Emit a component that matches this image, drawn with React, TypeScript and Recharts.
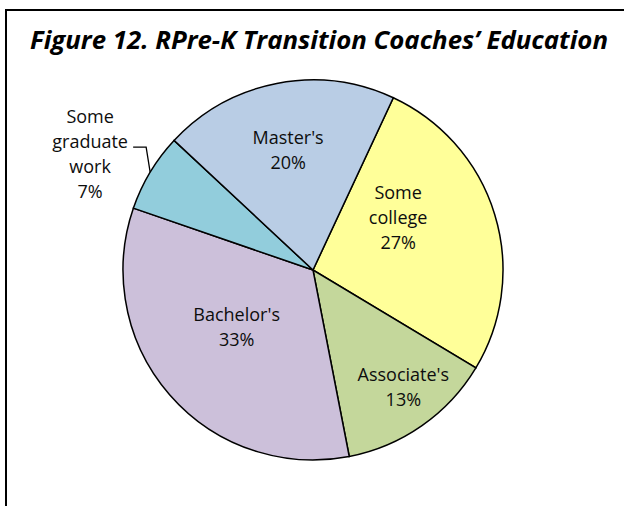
import { PieChart, Pie, Cell } from "recharts"

const categories = ["Some college", "Associate's", "Bachelor's", "Some graduate work", "Master's"]
const coachCounts = [4, 2, 5, 1, 3]
const sliceColors = ["#FFFF99", "#C4D79B", "#CCC0DA", "#92CDDC", "#B9CDE5"]

const title = "Figure 12. RPre-K Transition Coaches\u2019 Education"

// label placement tweaks (radius fraction, clockwise angle nudge), Excel-ish best fit
const labelPlacement: { [key: string]: { r: number; nudge: number; lines: string[] } } = {
  "Some college": { r: 0.52, nudge: -13.5, lines: ["Some", "college"] },
  "Associate's": { r: 0.79, nudge: -2, lines: ["Associate's"] },
  "Bachelor's": { r: 0.51, nudge: 3, lines: ["Bachelor's"] },
  "Master's": { r: 0.63, nudge: -1, lines: ["Master's"] },
}

const RAD = Math.PI / 180
const LINE_H = 25
const BASELINE_SHIFT = 4
const FONT = "'Open Sans', 'DejaVu Sans', sans-serif"
const TEXT_COLOR = "#0d0d0d"

const data = categories.map((name, i) => ({ name, value: coachCounts[i] }))

const renderLabel = (props: any) => {
  const { cx, cy, midAngle, outerRadius, percent, name, index } = props
  const pct = `${Math.round(percent * 100)}%`

  if (name === "Some graduate work") {
    // outside label with elbow leader line
    const ex = cx + outerRadius * Math.cos(-midAngle * RAD)
    const ey = cy + outerRadius * Math.sin(-midAngle * RAD)
    const kneeY = ey - 25
    const lines = ["Some", "graduate", "work", pct]
    const lx = ex - 60
    const mid = kneeY + 13.5
    return (
      <g key={`lbl-${index}`}>
        <polyline
          points={`${ex},${ey} ${ex - 4},${kneeY} ${ex - 17},${kneeY}`}
          fill="none"
          stroke="#000"
          strokeWidth={1.3}
        />
        {lines.map((t, i) => (
          <text
            key={i}
            x={lx}
            y={mid + (i - (lines.length - 1) / 2) * LINE_H}
            textAnchor="middle"
            fontFamily={FONT}
            fontSize={18}
            fill={TEXT_COLOR}
          >
            {t}
          </text>
        ))}
      </g>
    )
  }

  const cfg = labelPlacement[name]
  const ang = midAngle - cfg.nudge
  const r = outerRadius * cfg.r
  const x = cx + r * Math.cos(-ang * RAD)
  const y = cy + r * Math.sin(-ang * RAD) + BASELINE_SHIFT
  const lines = [...cfg.lines, pct]
  return (
    <g key={`lbl-${index}`}>
      {lines.map((t, i) => (
        <text
          key={i}
          x={x}
          y={y + (i - (lines.length - 1) / 2) * LINE_H}
          textAnchor="middle"
          fontFamily={FONT}
          fontSize={18}
          fill={TEXT_COLOR}
        >
          {t}
        </text>
      ))}
    </g>
  )
}

export default function App() {
  return (
    <div style={{ position: "absolute", left: 0, top: 0, width: 624, height: 506, background: "#fff" }}>
      <div
        style={{
          position: "absolute",
          left: 5,
          top: 9,
          width: 619,
          height: 497,
          borderTop: "2px solid #000",
          borderLeft: "2px solid #000",
        }}
      />
      <svg width={624} height={70} style={{ position: "absolute", left: 0, top: 0 }}>
        <text
          x={30}
          y={49}
          textLength={578}
          lengthAdjust="spacingAndGlyphs"
          fontFamily={FONT}
          fontWeight={700}
          fontStyle="italic"
          fontSize={25}
          fill="#000"
        >
          {title}
        </text>
      </svg>
      <div style={{ position: "absolute", left: 0, top: 0 }}>
        <PieChart width={624} height={506} margin={{ top: 0, right: 0, bottom: 0, left: 0 }}>
          <Pie
            data={data}
            dataKey="value"
            nameKey="name"
            cx={313}
            cy={270}
            outerRadius={190}
            startAngle={65}
            endAngle={-295}
            stroke="#000"
            strokeWidth={1.5}
            label={renderLabel}
            labelLine={false}
            isAnimationActive={false}
          >
            {data.map((d, i) => (
              <Cell key={`cell-${i}`} fill={sliceColors[i]} />
            ))}
          </Pie>
        </PieChart>
      </div>
    </div>
  )
}
